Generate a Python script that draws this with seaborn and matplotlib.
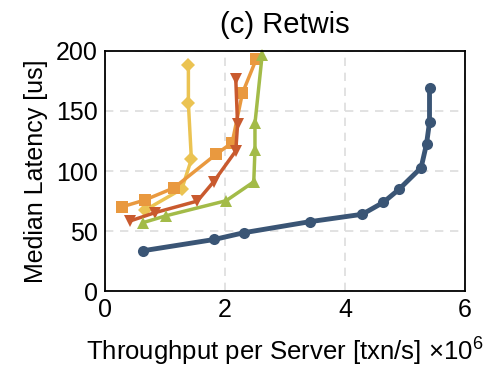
import matplotlib
matplotlib.use("Agg")
import matplotlib.pyplot as plt
import seaborn as sns
import pandas as pd

# throughput (x10^6 txn/s) and median latency (us) per series
blue_x = [0.63, 1.82, 2.31, 3.41, 4.29, 4.64, 4.90, 5.27, 5.36, 5.41, 5.41]
blue_y = [33.6, 43.0, 48.6, 57.8, 64.0, 73.9, 84.7, 102.8, 122.5, 140.6, 168.9]

yellow_x = [0.67, 1.28, 1.44, 1.39, 1.39]
yellow_y = [67.5, 85.0, 109.7, 156.4, 188.3]

orange_x = [0.29, 0.66, 1.15, 1.85, 2.12, 2.29, 2.52]
orange_y = [70.3, 75.8, 86.0, 113.9, 123.6, 164.7, 193.0]

red_x = [0.41, 0.83, 1.54, 1.81, 2.18, 2.21, 2.18]
red_y = [58.3, 65.3, 75.0, 91.0, 116.7, 138.9, 176.7]

green_x = [0.63, 1.02, 2.02, 2.48, 2.50, 2.50, 2.62]
green_y = [57.0, 62.8, 75.3, 91.0, 117.5, 139.7, 196.7]

sns.set_style("white")
plt.rcParams['font.family'] = ['Liberation Sans', 'DejaVu Sans']
plt.rcParams['mathtext.fontset'] = 'custom'
plt.rcParams['mathtext.rm'] = 'Liberation Sans'
plt.rcParams['text.color'] = 'black'
plt.rcParams['axes.labelcolor'] = 'black'
plt.rcParams['xtick.color'] = 'black'
plt.rcParams['ytick.color'] = 'black'

fig = plt.figure(figsize=(4.93, 3.69), dpi=100)
ax = fig.add_axes([0.213, 0.211, 0.730, 0.651])

series = [
    (yellow_x, yellow_y, '#ebc352', 'D', 2.5, 7.5),
    (orange_x, orange_y, '#e9993f', 's', 2.5, 8),
    (red_x, red_y, '#c95a2e', 'v', 2.5, 9),
    (green_x, green_y, '#a3bb48', '^', 2.5, 9),
    (blue_x, blue_y, '#3a5575', 'o', 3.5, 8),
]
for xs, ys, col, mk, lw, ms in series:
    df = pd.DataFrame({'x': xs, 'y': ys})
    sns.lineplot(data=df, x='x', y='y', sort=False, estimator=None, ax=ax,
                 color=col, marker=mk, markersize=ms, linewidth=lw,
                 markeredgewidth=0, clip_on=False)

ax.set_xlim(0, 6)
ax.set_ylim(0, 200)
ax.set_xticks([0, 2, 4, 6])
ax.set_yticks([0, 50, 100, 150, 200])
ax.grid(True, linestyle=(0, (5, 4)), color='#dddddd', linewidth=1.2)
for s in ax.spines.values():
    s.set_color('black')
    s.set_linewidth(1.3)
ax.tick_params(direction='in', length=5, width=1.3, labelsize=18,
               top=False, right=False, pad=5)
ax.set_xlabel('Throughput per Server [txn/s] $\\times$10$^6$', fontsize=18.5, labelpad=9)
ax.set_ylabel('Median Latency [us]', fontsize=18, labelpad=6)
ax.set_title('(c) Retwis', fontsize=21, pad=13)

fig.savefig('out.png', dpi=100)
